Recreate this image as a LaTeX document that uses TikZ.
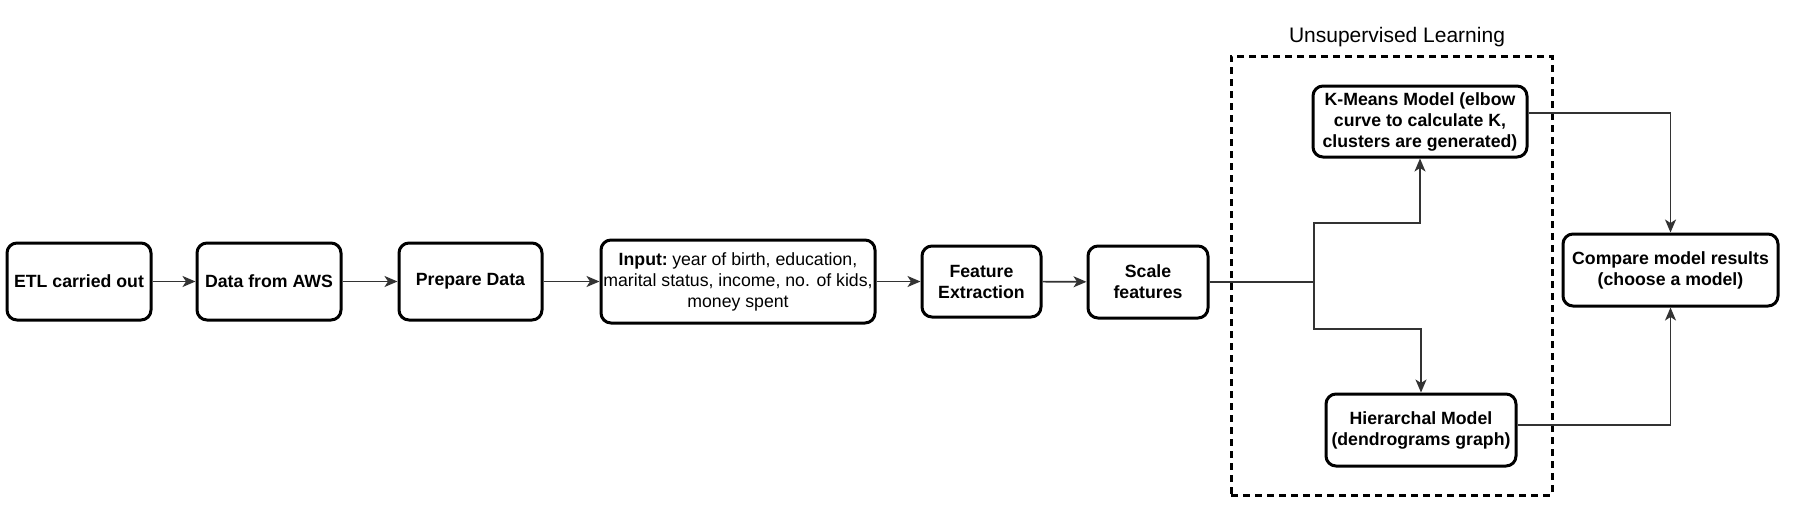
\documentclass[tikz,border=0pt]{standalone}
\usepackage{fontspec}
\setmainfont{Liberation Sans}
\usetikzlibrary{arrows.meta}
\tikzset{
  box/.style={draw=black, line width=3pt, rounded corners=10pt, align=center,
    inner sep=2pt, font=\fontsize{17.7}{21}\selectfont\bfseries},
  conn/.style={line width=1.6pt, draw=black!80},
  arr/.style={conn, -{Stealth[length=13pt,width=11pt,inset=3.5pt]}},
  group/.style={draw=black, line width=3pt, dash pattern=on 7pt off 5pt},
}
\begin{document}
\begin{tikzpicture}[x=1pt,y=-1pt]
\useasboundingbox (0,0) rectangle (1799,523);
\node[box, minimum width=144pt, minimum height=77pt] (etl) at (79,281.5) {ETL carried out};
\node[box, minimum width=144pt, minimum height=77pt] (aws) at (269,281.5) {Data from AWS};
\node[box, minimum width=143pt, minimum height=77pt] (prep) at (470.5,281.5) {Prepare Data};
\node[box, minimum width=274pt, minimum height=83pt, font=\fontsize{17.7}{21}\selectfont] (input) at (738,281.5) {\textbf{Input:}\hspace{0.25em}year of birth, education,\\marital status, income, no. of kids,\\money spent};
\node[box, minimum width=119pt, minimum height=71pt] (feat) at (981.5,281.5) {Feature\\Extraction};
\node[box, minimum width=120pt, minimum height=72pt] (scale) at (1148,282) {Scale\\features};
\node[box, minimum width=214pt, minimum height=71pt] (kmeans) at (1420,121.5) {K-Means Model (elbow\\curve to calculate K,\\clusters are generated)};
\node[box, minimum width=190pt, minimum height=72pt] (hier) at (1421,430) {Hierarchal Model\\(dendrograms graph)};
\node[box, minimum width=215pt, minimum height=72pt] (compare) at (1670.5,270) {Compare model results\\(choose a model)};
\node[group, minimum width=321pt, minimum height=439pt, inner sep=0pt] (grp) at (1391.5,275.5) {};
\node[font=\fontsize{21}{25}\selectfont] (title) at (1397,37) {Unsupervised Learning};
\coordinate (j) at (1314,282);
\coordinate (ju) at (1314,223);
\coordinate (jd) at (1314,329);
\draw[arr] (etl) -- (aws);
\draw[arr] (aws) -- (prep);
\draw[arr] (prep) -- (input);
\draw[arr] (input) -- (feat);
\draw[arr] (feat) -- (scale);
\draw[conn] (scale.east) -- (j);
\draw[arr] (j) -- (ju) -| (kmeans.south);
\draw[arr] (j) -- (jd) -| (hier.north);
\draw[arr] ([yshift=8.5pt]kmeans.east) -| (compare.north);
\draw[arr] ([yshift=5pt]hier.east) -| (compare.south);
\end{tikzpicture}
\end{document}
